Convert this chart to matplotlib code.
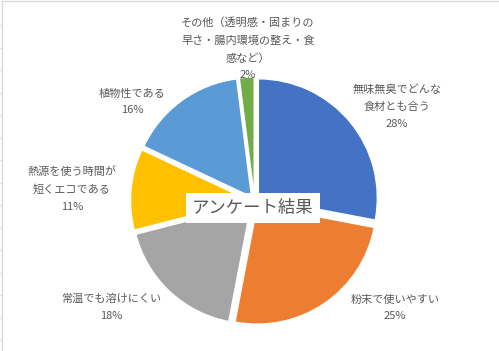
import matplotlib
matplotlib.use("Agg")
import matplotlib.pyplot as plt

plt.rcParams['font.family'] = ['Noto Sans CJK JP', 'DejaVu Sans']

# data
labels = ["無味無臭でどんな\n食材とも合う", "粉末で使いやすい", "常温でも溶けにくい",
          "熱源を使う時間が\n短くエコである", "植物性である",
          "その他（透明感・固まりの\n早さ・腸内環境の整え・食\n感など）"]
shares = [28, 25, 18, 11, 16, 2]
colors = ["#4472C4", "#ED7D31", "#A5A5A5", "#FFC000", "#5B9BD5", "#70AD47"]
title = "アンケート結果"

# label centres in pixel coords (x, y from top)
label_pos = [(397, 107), (395, 308), (111, 307), (72, 189), (132, 102), (248, 49)]

W, H = 499, 351
fig = plt.figure(figsize=(W / 100, H / 100), dpi=100)
ax = fig.add_axes([0, 0, 1, 1])
ax.set_xlim(0, W)
ax.set_ylim(0, H)
ax.axis("off")

cx, cy, r = 254.5, H - 201, 119
ax.pie(shares, colors=colors, startangle=90, counterclock=False,
       explode=[5] * len(shares), radius=r, center=(cx, cy),
       wedgeprops=dict(edgecolor="white", linewidth=1))
ax.set_xlim(0, W)
ax.set_ylim(0, H)
ax.set_aspect("auto")

for lab, v, (x, y) in zip(labels, shares, label_pos):
    ax.text(x, H - y, f"{lab}\n{v}%", ha="center", va="center",
            fontsize=8, color="#595959", linespacing=1.85)

ax.text(253, H - 208, title, ha="center", va="center", fontsize=12.5,
        color="#595959",
        bbox=dict(boxstyle="square,pad=0.35", fc="white", ec="none"))

# sheet border and row lines at the edge
ax.plot([2.5, 2.5], [0, H - 1], color="#d9d9d9", lw=1)
ax.plot([2.5, W], [H - 1, H - 1], color="#d9d9d9", lw=1)
y = 25
while y < H:
    ax.plot([0, 2.5], [H - y, H - y], color="#e0e0e0", lw=0.8)
    y += 22.5

fig.savefig("out.png", dpi=100)
